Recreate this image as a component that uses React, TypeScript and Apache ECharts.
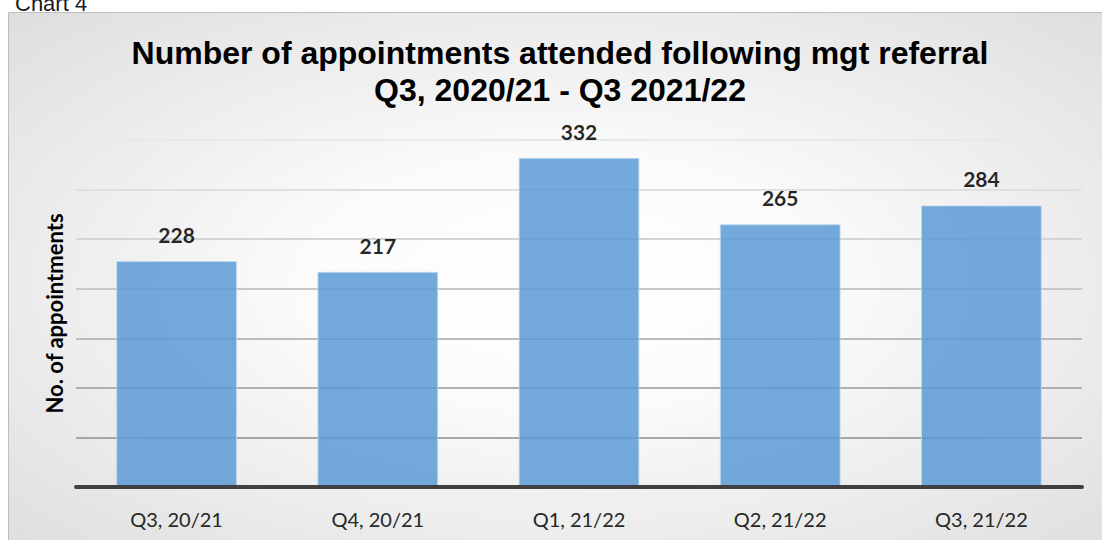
import React, { useEffect, useRef } from "react";
import * as echarts from "echarts";

const categories = ["Q3, 20/21", "Q4, 20/21", "Q1, 21/22", "Q2, 21/22", "Q3, 21/22"];
const appointments = [228, 217, 332, 265, 284];
const titleLines = ["Number of appointments attended following mgt referral", "Q3, 2020/21 - Q3 2021/22"];
const yAxisName = "No. of appointments";
const captionText = "Chart 4";
// gridline colours from value 0 upwards (0, 50, ..., 350)
const gridColors = ["#a0a0a0", "#a6a6a6", "#afafaf", "#bbbbbb", "#c8c8c8", "#d4d4d4", "#dfdfdf", "#e9e9e9"];

export default function App() {
  const ref = useRef<HTMLDivElement>(null);
  useEffect(() => {
    if (!ref.current) return;
    const chart = echarts.init(ref.current, undefined, { renderer: "svg" });
    chart.setOption({
      animation: false,
      backgroundColor: "#ffffff",
      graphic: [
        {
          type: "rect",
          z: -10,
          shape: { x: 8.5, y: 12.5, width: 1110, height: 540 },
          style: {
            fill: {
              type: "radial",
              x: 0.5,
              y: 0.5,
              r: 1.15,
              colorStops: [
                { offset: 0, color: "#ffffff" },
                { offset: 0.2, color: "#fbfbfb" },
                { offset: 0.5, color: "#e6e6e6" },
                { offset: 0.85, color: "#cdcdcd" },
                { offset: 1, color: "#bdbdbd" },
              ],
            },
            stroke: "#bdbdbd",
            lineWidth: 1,
          },
        },
        {
          type: "text",
          x: 15,
          y: -8,
          style: {
            text: captionText,
            font: "22px 'Liberation Sans', Arial, sans-serif",
            fill: "#1a1a1a",
          },
        },
      ],
      title: {
        text: titleLines.join("\n"),
        left: 560,
        top: 34,
        padding: 0,
        textAlign: "center",
        textStyle: {
          fontFamily: "'Liberation Sans', Arial, sans-serif",
          fontWeight: "bold",
          fontSize: 32,
          lineHeight: 37,
          color: "#000000",
        },
      },
      grid: { left: 76, right: 20, top: 140, bottom: 53, containLabel: false },
      xAxis: {
        type: "category",
        data: categories,
        axisLine: { show: true, lineStyle: { color: "#404040", width: 4 } },
        axisTick: { show: false },
        axisLabel: {
          margin: 22,
          fontFamily: "Lato, 'Open Sans', sans-serif",
          fontSize: 20,
          color: "#262626",
        },
        z: 5,
      },
      yAxis: {
        type: "value",
        min: 0,
        max: 350,
        interval: 50,
        name: yAxisName,
        nameLocation: "middle",
        nameRotate: 90,
        nameGap: 11,
        nameTextStyle: {
          fontFamily: "Lato, 'Open Sans', sans-serif",
          fontWeight: "bold",
          fontSize: 22,
          color: "#000000",
        },
        axisLine: { show: false },
        axisTick: { show: false },
        axisLabel: { show: false },
        splitLine: { show: true, lineStyle: { color: gridColors, width: 2 } },
      },
      series: [
        {
          type: "bar",
          data: appointments,
          barWidth: "60%",
          itemStyle: {
            color: "#5b9bd5",
            opacity: 0.85,
            borderColor: "#bdd7ee",
            borderWidth: 1,
          },
          label: {
            show: true,
            position: "top",
            distance: 16,
            fontFamily: "Lato, 'Open Sans', sans-serif",
            fontWeight: "bold",
            fontSize: 21,
            color: "#000000",
          },
        },
      ],
    });
    return () => chart.dispose();
  }, []);
  return (
    <div
      ref={ref}
      style={{ position: "fixed", left: 0, top: 0, width: 1102, height: 540 }}
    />
  );
}
